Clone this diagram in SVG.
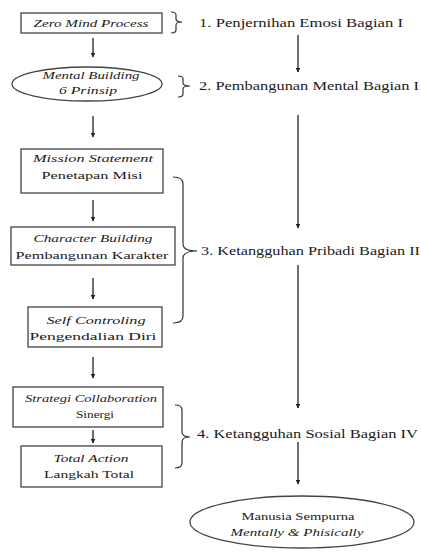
<svg xmlns="http://www.w3.org/2000/svg" width="421" height="552" viewBox="0 0 421 552">
<defs>
<marker id="ah" viewBox="0 0 10 10" refX="9" refY="5" markerWidth="5" markerHeight="5" orient="auto" markerUnits="userSpaceOnUse">
<path d="M0,0 L10,5 L0,10 z" fill="#222"/>
</marker>
<style>
.box{fill:#fff;stroke:#444;stroke-width:1.3}
.t{font-size:11px;fill:#1a1a1a;text-anchor:middle}
.i{font-style:italic}
.r{font-size:12.5px;fill:#1a1a1a}
.c{fill:none;stroke:#222;stroke-width:1.3}
.br{fill:none;stroke:#333;stroke-width:1.2}
</style>
</defs>
<rect width="421" height="552" fill="#fff"/>

<g id="connectors">
<line class="c" x1="93" y1="38" x2="93" y2="57" marker-end="url(#ah)"/>
<line class="c" x1="93" y1="116" x2="93" y2="137" marker-end="url(#ah)"/>
<line class="c" x1="93" y1="200" x2="93" y2="221" marker-end="url(#ah)"/>
<line class="c" x1="93" y1="278" x2="93" y2="299" marker-end="url(#ah)"/>
<line class="c" x1="93" y1="357" x2="93" y2="378" marker-end="url(#ah)"/>
<line class="c" x1="93" y1="430" x2="93" y2="443" marker-end="url(#ah)"/>
<line class="c" x1="298" y1="35" x2="298" y2="72" marker-end="url(#ah)"/>
<line class="c" x1="298" y1="115" x2="298" y2="228" marker-end="url(#ah)"/>
<line class="c" x1="298" y1="265" x2="298" y2="408" marker-end="url(#ah)"/>
<line class="c" x1="298" y1="442" x2="298" y2="484" marker-end="url(#ah)"/>
<path class="br" d="M171,12 Q176,12 176,15 L176,19 Q176,22 182,22 Q176,22 176,25 L176,30 Q176,33 171,33"/>
<path class="br" d="M178,76 Q183,76 183,79 L183,83 Q183,86 190,86 Q183,86 183,89 L183,94 Q183,97 178,97"/>
<path class="br" d="M173,177 Q183,177 183,184 L183,244 Q183,251 197,251 Q183,251 183,258 L183,316 Q183,323 173,323"/>
<path class="br" d="M175,405 Q182,405 182,410 L182,432 Q182,437 190,437 Q182,437 182,442 L182,463 Q182,468 175,468"/>
</g>

<g font-family="Liberation Serif, Times New Roman, DejaVu Serif, serif">
<g id="zero-mind">
<rect class="box" x="21" y="13" width="141" height="20"/>
<text class="t i" x="91" y="27" textLength="115" lengthAdjust="spacingAndGlyphs">Zero Mind Process</text>
</g>
<g id="mental-building">
<ellipse class="box" cx="87" cy="84" rx="75" ry="17"/>
<text class="t i" x="91" y="79" textLength="97" lengthAdjust="spacingAndGlyphs">Mental Building</text>
<text class="t i" x="88" y="94" textLength="58" lengthAdjust="spacingAndGlyphs">6 Prinsip</text>
</g>
<g id="mission">
<rect class="box" x="21" y="149" width="142" height="44"/>
<text class="t i" x="93" y="162" textLength="120" lengthAdjust="spacingAndGlyphs">Mission Statement</text>
<text class="t" x="92" y="179" textLength="101" lengthAdjust="spacingAndGlyphs">Penetapan Misi</text>
</g>
<g id="character">
<rect class="box" x="11" y="227" width="164" height="38"/>
<text class="t i" x="93" y="242" textLength="119" lengthAdjust="spacingAndGlyphs">Character Building</text>
<text class="t" x="92" y="259" textLength="153" lengthAdjust="spacingAndGlyphs">Pembangunan Karakter</text>
</g>
<g id="self-control">
<rect class="box" x="28" y="307" width="134" height="40"/>
<text class="t i" x="96" y="324" textLength="99" lengthAdjust="spacingAndGlyphs">Self Controling</text>
<text class="t" x="93" y="340" textLength="127" lengthAdjust="spacingAndGlyphs">Pengendalian Diri</text>
</g>
<g id="strategi">
<rect class="box" x="13" y="387" width="150" height="40"/>
<text class="t i" x="91" y="402" textLength="132" lengthAdjust="spacingAndGlyphs">Strategi Collaboration</text>
<text class="t" x="95" y="418" textLength="38" lengthAdjust="spacingAndGlyphs">Sinergi</text>
</g>
<g id="total-action">
<rect class="box" x="21" y="446" width="141" height="41"/>
<text class="t i" x="91" y="462" textLength="75" lengthAdjust="spacingAndGlyphs">Total Action</text>
<text class="t" x="89" y="478" textLength="90" lengthAdjust="spacingAndGlyphs">Langkah Total</text>
</g>
<g id="manusia">
<ellipse class="box" cx="302" cy="522" rx="112" ry="26"/>
<text class="t" x="298" y="520" textLength="113" lengthAdjust="spacingAndGlyphs">Manusia Sempurna</text>
<text class="t i" x="297" y="536" textLength="133" lengthAdjust="spacingAndGlyphs">Mentally &amp; Phisically</text>
</g>
<g id="label-1"><text class="r" x="199" y="27" textLength="204" lengthAdjust="spacingAndGlyphs">1. Penjernihan Emosi Bagian I</text></g>
<g id="label-2"><text class="r" x="199" y="90" textLength="220" lengthAdjust="spacingAndGlyphs">2. Pembangunan Mental Bagian I</text></g>
<g id="label-3"><text class="r" x="201" y="255" textLength="219" lengthAdjust="spacingAndGlyphs">3. Ketangguhan Pribadi Bagian II</text></g>
<g id="label-4"><text class="r" x="197" y="438" textLength="221" lengthAdjust="spacingAndGlyphs">4. Ketangguhan Sosial Bagian IV</text></g>
</g>
</svg>
